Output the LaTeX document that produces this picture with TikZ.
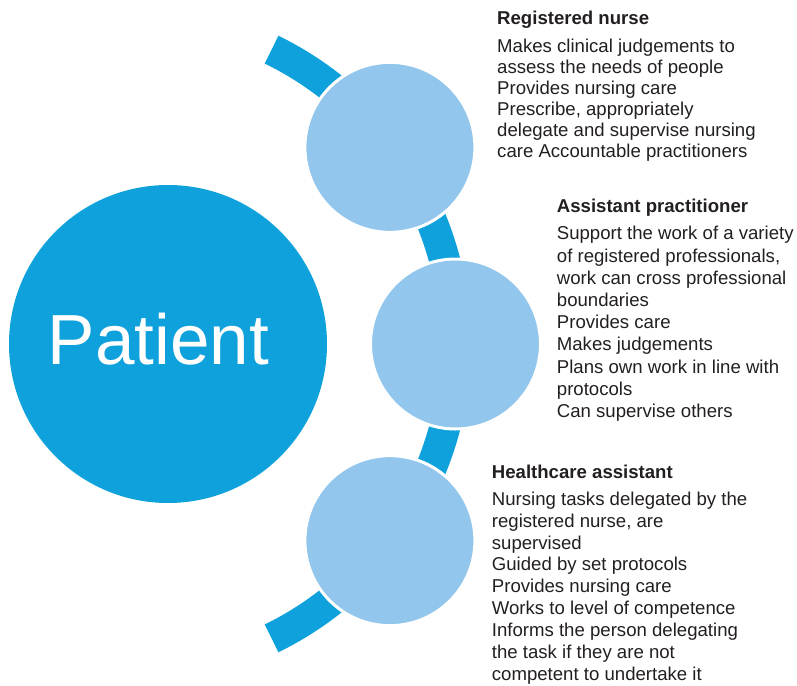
\documentclass[tikz,border=0pt]{standalone}
\usepackage{fontspec}
\setmainfont{Liberation Sans}
\usepackage{xcolor}
\usepackage{tikz}
\usetikzlibrary{positioning}
\definecolor{patientblue}{RGB}{14,161,220}
\definecolor{rolefill}{RGB}{146,198,236}
\definecolor{bodygrey}{RGB}{35,31,32}

\begin{document}
\begin{tikzpicture}[x=1pt,y=1pt,
    role/.style={circle, fill=rolefill, draw=white, line width=3pt, minimum size=170pt, inner sep=0pt},
    rolehead/.style={anchor=base west, inner sep=0pt, text depth=4pt, text=bodygrey,
      font=\fontsize{18.6}{21}\selectfont\bfseries},
    duties/.style={align=left, inner sep=0pt, text=bodygrey, font=\fontsize{18.6}{#1}\selectfont},
    duties/.default=22.2]
    \useasboundingbox (0,0) rectangle (797,-685);
    \coordinate (hub) at (128,-344);
    \draw[patientblue, line width=31pt] (hub) ++(64:327.5) arc[start angle=64, end angle=-64, radius=327.5];
    \node [circle, fill=patientblue, minimum size=318pt, inner sep=0pt] (patient) at (168,-344) {};
    \node [text=white, inner sep=0pt, font=\fontsize{71}{71}\selectfont] (patientname)
      at ([xshift=-9.5pt, yshift=5pt]patient.center) {Patient};
    \path (hub) ++(36.9:327.5) node [role] (nurse) {};
    \path (hub) ++(0:327.5) node [role] (assistant) {};
    \path (hub) ++(-36.9:327.5) node [role] (hca) {};

    \node [rolehead] (nursehead) at (497,-25) {Registered nurse};
    \node [duties=21, below right=9.4pt and 0pt of nursehead.south west] (nursetext)
      {Makes clinical judgements to\\
       assess the needs of people\\
       Provides nursing care\\
       Prescribe, appropriately\\
       delegate and supervise nursing\\
       care Accountable practitioners};

    \node [rolehead] (assistanthead) at (556.7,-212.7) {Assistant practitioner};
    \node [duties, below right=9.4pt and 0pt of assistanthead.south west] (assistanttext)
      {Support the work of a variety\\
       of registered professionals,\\
       work can cross professional\\
       boundaries\\
       Provides care\\
       Makes judgements\\
       Plans own work in line with\\
       protocols\\
       Can supervise others};

    \node [rolehead] (hcahead) at (491.7,-478.3) {Healthcare assistant};
    \node [duties=21.85, below right=9.2pt and 0pt of hcahead.south west] (hcatext)
      {Nursing tasks delegated by the\\
       registered nurse, are\\
       supervised\\
       Guided by set protocols\\
       Provides nursing care\\
       Works to level of competence\\
       Informs the person delegating\\
       the task if they are not\\
       competent to undertake it};
\end{tikzpicture}
\end{document}
